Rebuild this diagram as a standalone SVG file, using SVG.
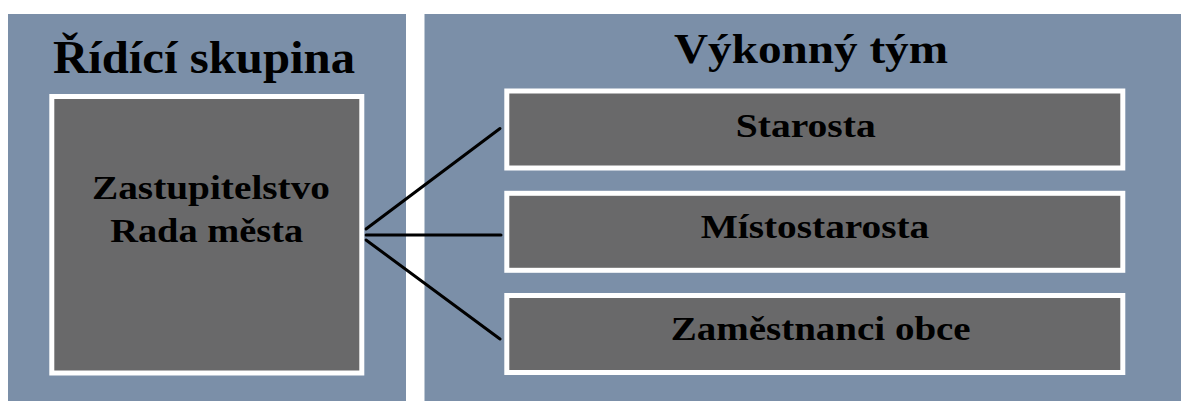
<svg xmlns="http://www.w3.org/2000/svg" width="1181" height="401" viewBox="0 0 1181 401">
<style>
.panel{fill:#7b8fa8}
.box{fill:#69696a;stroke:#ffffff;stroke-width:5}
.title{font-family:"Liberation Serif","Times New Roman",serif;font-weight:bold;fill:#000;text-anchor:middle}
.lbl{font-family:"Liberation Serif","Times New Roman",serif;font-weight:bold;font-size:33px;fill:#000;text-anchor:middle}
.conn{stroke:#000;stroke-width:3;fill:none;stroke-linecap:round}
</style>
<rect width="1181" height="401" fill="#ffffff"/>
<g id="panel-ridici">
<rect class="panel" x="8" y="14" width="398" height="390"/>
<text class="title" x="204" y="72.5" font-size="46" textLength="302" lengthAdjust="spacingAndGlyphs">Řídící skupina</text>
</g>
<g id="panel-vykonny">
<rect class="panel" x="424.5" y="14" width="760" height="390"/>
<text class="title" x="811" y="63" font-size="43" textLength="274" lengthAdjust="spacingAndGlyphs">Výkonný tým</text>
</g>
<g id="connectors">
<line class="conn" x1="366" y1="229" x2="500" y2="128.5"/>
<line class="conn" x1="366" y1="235" x2="501" y2="235"/>
<line class="conn" x1="366" y1="240" x2="500" y2="339"/>
</g>
<g id="node-zastupitelstvo">
<rect class="box" x="51.8" y="96.5" width="310" height="276.5"/>
<text class="lbl" x="211" y="199.3" textLength="238" lengthAdjust="spacingAndGlyphs">Zastupitelstvo</text>
<text class="lbl" x="206.7" y="241.7" textLength="193" lengthAdjust="spacingAndGlyphs">Rada města</text>
</g>
<g id="node-starosta">
<rect class="box" x="506.8" y="91" width="616" height="77"/>
<text class="lbl" x="805.7" y="136.7" textLength="140" lengthAdjust="spacingAndGlyphs">Starosta</text>
</g>
<g id="node-mistostarosta">
<rect class="box" x="506.8" y="193.3" width="616" height="77"/>
<text class="lbl" x="815" y="238.3" textLength="228.6" lengthAdjust="spacingAndGlyphs">Místostarosta</text>
</g>
<g id="node-zamestnanci">
<rect class="box" x="506.8" y="295.5" width="616" height="77"/>
<text class="lbl" x="820.7" y="340" textLength="300" lengthAdjust="spacingAndGlyphs">Zaměstnanci obce</text>
</g>
</svg>
